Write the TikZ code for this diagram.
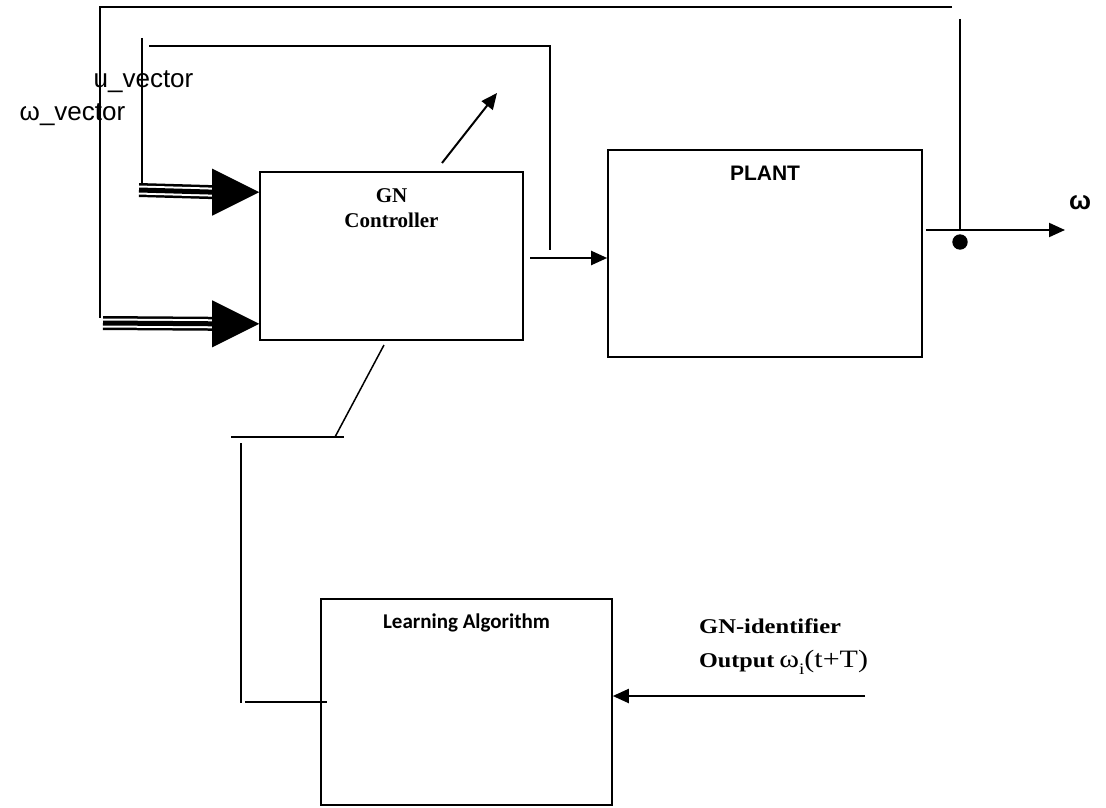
\documentclass[tikz,border=0pt]{standalone}
\usepackage{fontspec}
\setmainfont{Liberation Serif}
\newfontfamily\arialfont{Liberation Sans}
\newfontfamily\calibrifont{Carlito}
\usetikzlibrary{arrows.meta,calc}

\begin{document}
\begin{tikzpicture}[x=1pt,y=-1pt,
  block/.style={draw, line width=1.6pt, inner sep=0pt},
  wire/.style={line width=1.5pt},
  sig/.style={line width=2pt, -{Triangle[length=16pt,width=14pt]}},
  bus/.style={line width=14pt},
  busgap/.style={white, line width=9pt},
  buscore/.style={line width=5pt},
  ttl/.style={font=\fontsize{21}{25}\selectfont\bfseries, align=center, inner sep=0pt}]
\useasboundingbox (0,0) rectangle (1106,808);

% blocks
\node[block, minimum width=263pt, minimum height=168pt] (ctrl) at (391.5,256) {};
\node[block, minimum width=314pt, minimum height=207pt] (plant) at (765,253.5) {};
\node[block, minimum width=291pt, minimum height=206pt] (learn) at (466.5,702) {};

% block titles
\node[ttl] (ctrlT) at (391.5,208) {GN\\Controller};
\node[ttl, font=\fontsize{21}{25}\selectfont\arialfont\bfseries] (plantT) at (765,173) {PLANT};
\node[ttl, font=\fontsize{21}{25}\selectfont\calibrifont\bfseries] (learnT) at (466.5,623) {Learning Algorithm};

% input points on the controller
\coordinate (in1) at ($(ctrl.north west)+(0,21)$);
\coordinate (in2) at ($(ctrl.south west)+(0,-17)$);
\coordinate (uS) at (139,190);
\coordinate (wS) at (103,323);

% outer feedback (omega)
\coordinate (wTop) at (100,7);
\draw[wire] (952,7) -- (wTop) -- (100,318);
% inner feedback (u)
\coordinate (uTop) at (142,38);
\draw[wire] (uTop) -- (142,184);
\draw[wire] (149,46) -- (550,46) -- (550,250);

% multi-line input buses with large heads
\foreach \s/\e in {uS/in1, wS/in2}{
  \draw[bus] (\s) -- ($(\e)+(-44,0)$);
  \draw[busgap] ($(\s)+(-1,0)$) -- ($(\e)+(-44,0)$);
  \draw[buscore] (\s) -- ($(\e)+(-44,0)$);
  \fill (\e) -- ++(-47,-23.5) -- ++(0,47) -- cycle;
}

% controller to plant
\coordinate (cOut) at ($(ctrl.east)+(6.5,2)$);
\draw[sig] (cOut) -- (cOut -| plant.west);

% adjustment arrow on the controller
\coordinate (adjA) at (442,163);
\coordinate (adjB) at (497,93);
\draw[sig] (adjA) -- (adjB);

% plant output and measurement tap
\coordinate (pOut) at ($(plant.east)+(3,-23.5)$);
\coordinate (yEnd) at (1065,230);
\draw[sig] (pOut) -- (yEnd);
\coordinate (tapTop) at (960,19);
\coordinate (tap) at (960,230);
\draw[wire] (tapTop) -- (tap);
\fill (960,242) circle (7.7pt);
\node[font=\fontsize{26}{30}\selectfont\arialfont\bfseries, inner sep=0pt] (wOut) at (1080,203) {ω};

% learning algorithm link to controller
\coordinate (lkA) at (384,345);
\coordinate (lkB) at (335,437);
\draw[wire] (lkA) -- (lkB);
\draw[wire] (231,437) -- (344,437);
\draw[wire] (241,443) -- (241,703);
\draw[wire] (245,702) -- (327,702);

% identifier output into learning algorithm
\coordinate (idS) at (865,696);
\draw[sig] (idS) -- (idS -| learn.east);
\node[anchor=base west, inner sep=0pt] (idT1) at (699,633)
  {\scalebox{1.17}[1]{\fontsize{21}{24}\selectfont\bfseries GN-identifier}};
\node[anchor=base west, inner sep=0pt] (idT2) at (699,667)
  {\scalebox{1.15}[1]{\fontsize{21}{24}\selectfont\bfseries Output}\hspace{5pt}%
   \scalebox{1.2}[1]{\fontsize{25}{30}\selectfont ω\raisebox{-7pt}{\fontsize{16}{18}\selectfont i}(t+T)}};

% vector labels
\node[font=\fontsize{26}{30}\selectfont\arialfont, inner sep=0pt] (uLab) at (143.5,82) {u\_vector};
\node[font=\fontsize{26}{30}\selectfont\arialfont, inner sep=0pt] (wLab) at (72.5,115) {ω\_vector};
\end{tikzpicture}
\end{document}
